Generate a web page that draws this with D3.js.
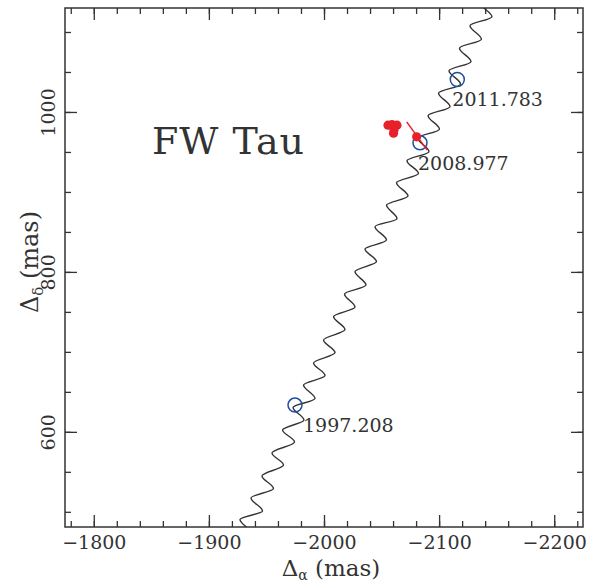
<!DOCTYPE html>
<html lang="en">
<head>
  <meta charset="UTF-8">
  <title>FW Tau</title>
  <style>
    body { margin: 0; background: #fff; }
    text { font-family: "DejaVu Serif", serif; fill: #333; }
  </style>
</head>
<body>
  <script src="https://cdn.jsdelivr.net/npm/d3@7/dist/d3.min.js"></script>
  <script>
    // tick labels
    let xTicks = [-1800, -1900, -2000, -2100, -2200];
    let yTicks = [600, 800, 1000];

    // model track (proper motion + parallax), turning points, in mas
    let trackRA = [-1917.5, -1936.6, -1927.0, -1946.6, -1936.6, -1956.1, -1946.1, -1964.8, -1954.8, -1974.4,
                   -1964.0, -1982.6, -1973.1, -1992.2, -1982.2, -2000.9, -1990.9, -2009.6, -1999.6, -2018.2,
                   -2008.3, -2026.9, -2017.8, -2036.5, -2026.9, -2045.6, -2035.6, -2054.3, -2044.3, -2063.4,
                   -2054.3, -2073.0, -2063.0, -2082.1, -2072.1, -2091.2, -2081.2, -2100.3, -2090.4, -2109.5,
                   -2099.5, -2118.6, -2108.6, -2127.7, -2117.7, -2136.8, -2126.8, -2145.9, -2136.0, -2155.1];
    let trackDec = [461.0, 473.5, 490.4, 501.0, 517.3, 529.1, 544.8, 558.5, 573.5, 587.3,
                    602.3, 614.8, 630.4, 641.6, 658.5, 670.4, 686.0, 699.1, 714.8, 727.9,
                    744.1, 756.0, 772.3, 783.5, 800.4, 812.9, 828.5, 839.8, 856.6, 866.6,
                    883.5, 894.8, 911.6, 922.9, 939.1, 950.4, 967.3, 978.5, 995.4, 1006.6,
                    1023.5, 1034.8, 1051.6, 1062.9, 1079.8, 1091.0, 1107.9, 1119.1, 1136.0, 1147.3];

    // observed epochs (blue circles)
    let epochs = ['1997.208', '2008.977', '2011.783'];
    let epochRA = [-1974.8, -2083.4, -2115.8];
    let epochDec = [633.5, 961.4, 1040.6];

    // red measurements
    let obsRA = [-2055.6, -2059.1, -2063.4, -2060.8, -2060.4];
    let obsDec = [983.5, 984.1, 983.5, 977.3, 973.5];
    let lastRA = -2080.5;
    let lastDec = 968.9;
    let barRA = [-2071.8, -2089.7];
    let barDec = [987.6, 952.3];

    let width = 596;
    let height = 583;
    let svg = d3.select('body')
                .append('svg')
                .attr('width', width)
                .attr('height', height);

    let x = d3.scaleLinear().domain([-1775, -2225]).range([65, 583]);
    let y = d3.scaleLinear().domain([481, 1130]).range([527, 8]);

    svg.append('clipPath').attr('id', 'frame')
       .append('rect')
       .attr('x', 65).attr('y', 8)
       .attr('width', 518).attr('height', 519);

    // ticks on all four sides, pointing inward
    function ticks(g, axis) {
      g.call(axis);
      g.select('.domain').remove();
      g.selectAll('line').attr('stroke', '#333').attr('stroke-width', 1.3);
    }
    let xMinor = d3.range(-1780, -2225, -20);
    let yMinor = d3.range(500, 1130, 50);
    let fmt = d3.format('d');

    svg.append('g').attr('transform', 'translate(0,527)')
       .call(ticks, d3.axisBottom(x).tickValues(xMinor).tickSize(-6).tickFormat(''));
    let xAxis = svg.append('g').attr('transform', 'translate(0,527)')
       .call(ticks, d3.axisBottom(x).tickValues(xTicks).tickSize(-12).tickPadding(9).tickFormat(fmt));
    svg.append('g').attr('transform', 'translate(0,8)')
       .call(ticks, d3.axisTop(x).tickValues(xMinor).tickSize(-6).tickFormat(''));
    svg.append('g').attr('transform', 'translate(0,8)')
       .call(ticks, d3.axisTop(x).tickValues(xTicks).tickSize(-12).tickFormat(''));

    svg.append('g').attr('transform', 'translate(65,0)')
       .call(ticks, d3.axisLeft(y).tickValues(yMinor).tickSize(-6).tickFormat(''));
    let yAxis = svg.append('g').attr('transform', 'translate(65,0)')
       .call(ticks, d3.axisLeft(y).tickValues(yTicks).tickSize(-12).tickFormat(fmt));
    svg.append('g').attr('transform', 'translate(583,0)')
       .call(ticks, d3.axisRight(y).tickValues(yMinor).tickSize(-6).tickFormat(''));
    svg.append('g').attr('transform', 'translate(583,0)')
       .call(ticks, d3.axisRight(y).tickValues(yTicks).tickSize(-12).tickFormat(''));

    xAxis.selectAll('text')
         .attr('font-family', '"DejaVu Serif", serif')
         .attr('font-size', 19)
         .attr('fill', '#333');
    yAxis.selectAll('text')
         .attr('font-family', '"DejaVu Serif", serif')
         .attr('font-size', 19)
         .attr('fill', '#333')
         .attr('x', null)
         .attr('dy', null)
         .attr('text-anchor', 'middle')
         .attr('transform', 'translate(-10,0) rotate(-90)');

    // frame
    svg.append('rect')
       .attr('x', 65).attr('y', 8)
       .attr('width', 518).attr('height', 519)
       .attr('fill', 'none')
       .attr('stroke', '#333')
       .attr('stroke-width', 1.5);

    // model track
    let line = d3.line()
                 .x(function(d) { return x(d[0]); })
                 .y(function(d) { return y(d[1]); })
                 .curve(d3.curveMonotoneY);
    svg.append('path')
       .datum(d3.zip(trackRA, trackDec))
       .attr('clip-path', 'url(#frame)')
       .attr('d', line)
       .attr('fill', 'none')
       .attr('stroke', '#333')
       .attr('stroke-width', 1.4);

    // epoch circles + labels
    let labelDx = [8, -2, -5];
    svg.selectAll('circle.epoch')
       .data(epochs)
       .enter()
       .append('circle')
       .attr('class', 'epoch')
       .attr('cx', function(d, i) { return x(epochRA[i]); })
       .attr('cy', function(d, i) { return y(epochDec[i]); })
       .attr('r', 7)
       .attr('fill', 'none')
       .attr('stroke', '#1f4e9e')
       .attr('stroke-width', 1.5);
    svg.selectAll('text.epoch')
       .data(epochs)
       .enter()
       .append('text')
       .attr('class', 'epoch')
       .attr('x', function(d, i) { return x(epochRA[i]) + labelDx[i]; })
       .attr('y', function(d, i) { return y(epochDec[i]) + 27; })
       .attr('font-size', 19)
       .text(function(d) { return d; });

    // red measurements
    svg.append('line')
       .attr('x1', x(barRA[0])).attr('y1', y(barDec[0]))
       .attr('x2', x(barRA[1])).attr('y2', y(barDec[1]))
       .attr('stroke', '#e8202a')
       .attr('stroke-width', 1.5);
    svg.selectAll('circle.obs')
       .data(obsRA)
       .enter()
       .append('circle')
       .attr('class', 'obs')
       .attr('cx', function(d) { return x(d); })
       .attr('cy', function(d, i) { return y(obsDec[i]); })
       .attr('r', 4.6)
       .attr('fill', '#e8202a');
    svg.append('circle')
       .attr('cx', x(lastRA))
       .attr('cy', y(lastDec))
       .attr('r', 4.6)
       .attr('fill', '#e8202a');

    // star name
    svg.append('text')
       .attr('x', 152)
       .attr('y', 154)
       .attr('font-size', 38)
       .attr('letter-spacing', 1)
       .text('FW Tau');

    // axis titles
    let xt = svg.append('text')
                .attr('x', 331)
                .attr('y', 576)
                .attr('text-anchor', 'middle')
                .attr('font-size', 23);
    xt.append('tspan').text('Δ');
    xt.append('tspan').attr('font-size', 14).attr('dy', 4).text('α');
    xt.append('tspan').attr('dy', -4).text(' (mas)');

    let yt = svg.append('text')
                .attr('transform', 'translate(38,262) rotate(-90)')
                .attr('text-anchor', 'middle')
                .attr('font-size', 24);
    yt.append('tspan').text('Δ');
    yt.append('tspan').attr('font-size', 15).attr('dy', 5).text('δ');
    yt.append('tspan').attr('dy', -5).text(' (mas)');
  </script>
</body>
</html>
